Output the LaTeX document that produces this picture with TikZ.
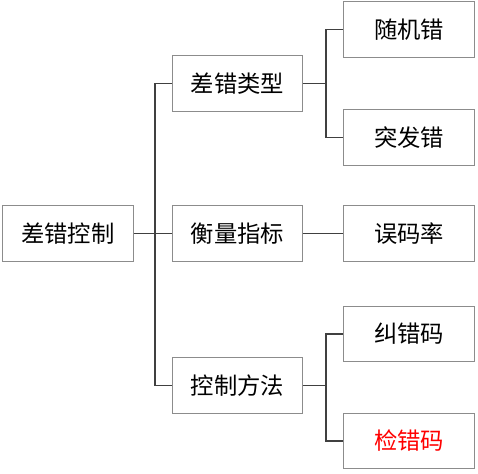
\documentclass[tikz,border=0pt]{standalone}
\usepackage{fontspec}
\newfontfamily\cjk{Noto Sans CJK SC}
\usepackage{xcolor}
\definecolor{boxgray}{HTML}{8C8C8C}
\definecolor{linegray}{HTML}{404040}
\usetikzlibrary{positioning, calc}

\tikzset{
  box/.style={draw=boxgray, line width=0.9pt, minimum width=98pt, minimum height=41.5pt,
    inner sep=0pt, font=\cjk\fontsize{17.5}{20}\selectfont},
  link/.style={draw=linegray, line width=1.1pt}
}

\begin{document}
\begin{tikzpicture}[x=0.75pt, y=-0.75pt]
\useasboundingbox (0,0) rectangle (478,474);
% Root
\node[box] (root) at (68,233.5) {差错控制};
% Middle level
\node[box] (kinds) at (237.5,83.5) {差错类型};
\node[box] (measure) at (237.5,233.5) {衡量指标};
\node[box] (methods) at (237.5,385.5) {控制方法};
% Leaves
\node[box] (random) at (409,29.5) {随机错};
\node[box] (burst) at (409,137.5) {突发错};
\node[box] (ber) at (409,233.5) {误码率};
\node[box] (fec) at (409,334) {纠错码};
\node[box, text=red] (detect) at (409,441) {检错码};

% Connectors
\coordinate (jroot) at (155,233.5);
\coordinate (jkinds) at (326,83.5);
\coordinate (jmethods) at (326,385.5);
\draw[link] (root.east) -- (jroot);
\draw[link] (jroot) |- (kinds.west);
\draw[link] (jroot) -- (measure.west);
\draw[link] (jroot) |- (methods.west);
\draw[link] (kinds.east) -- (jkinds);
\draw[link] (jkinds) |- (random.west);
\draw[link] (jkinds) |- (burst.west);
\draw[link] (measure.east) -- (ber.west);
\draw[link] (methods.east) -- (jmethods);
\draw[link] (jmethods) |- (fec.west);
\draw[link] (jmethods) |- (detect.west);
\end{tikzpicture}
\end{document}
